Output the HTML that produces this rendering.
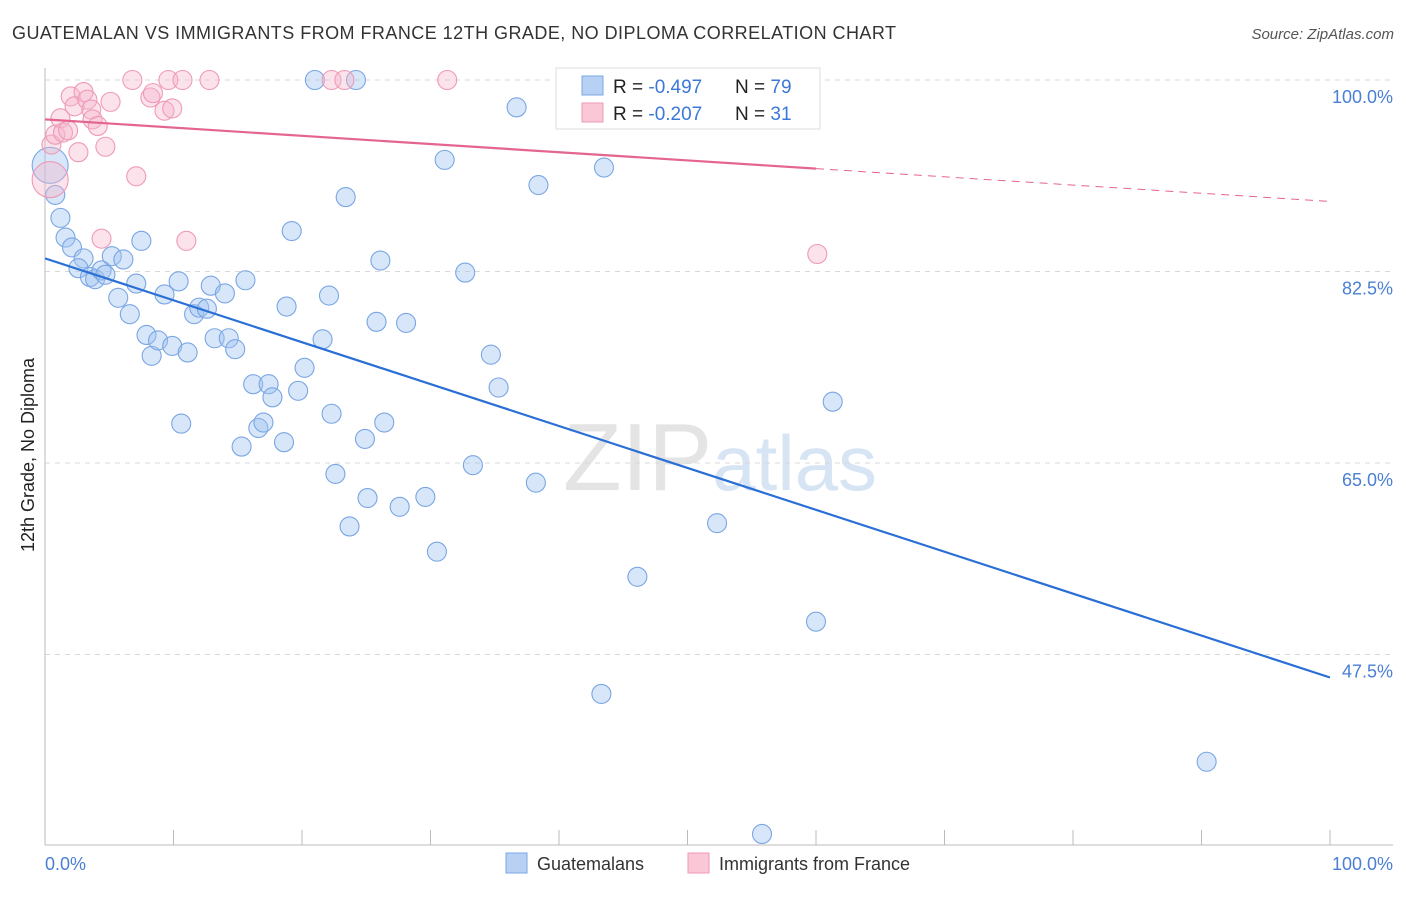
<!DOCTYPE html>
<html><head><meta charset="utf-8"><style>
body{margin:0;background:#fff;font-family:"Liberation Sans",sans-serif;}
svg text{font-family:"Liberation Sans",sans-serif;}
</style></head><body>
<svg id="chart" width="1406" height="892" xmlns="http://www.w3.org/2000/svg">
<text x="12" y="39" font-size="18" fill="#333" textLength="884">GUATEMALAN VS IMMIGRANTS FROM FRANCE 12TH GRADE, NO DIPLOMA CORRELATION CHART</text>
<text x="1394" y="39" font-size="15" fill="#555" text-anchor="end" font-style="italic">Source: ZipAtlas.com</text>
<text x="720" y="490" font-size="96" fill="#e4e4e4" text-anchor="middle" font-family="Liberation Serif">ZIP<tspan fill="#d6e4f4" font-family="Liberation Sans" font-size="78">atlas</tspan></text>
<g id="grid"></g><g id="axes"></g><g id="pts"></g><g id="lines"></g>
<text transform="translate(34,455) rotate(-90)" font-size="18" fill="#222" text-anchor="middle">12th Grade, No Diploma</text>
<text x="45" y="870" font-size="18" fill="#4a7fd4">0.0%</text>
<text x="1393" y="870" font-size="18" fill="#4a7fd4" text-anchor="end">100.0%</text>
<g>
<rect x="556" y="68" width="264" height="61" fill="#fff" stroke="#ddd"/>
<rect x="582" y="76" width="21" height="19" fill="#b7d0f3" stroke="#7aa8e6"/>
<rect x="582" y="103" width="21" height="19" fill="#f9c7d6" stroke="#ee9ab5"/>
<text x="613" y="93" font-size="19" fill="#222">R = <tspan fill="#3b78d8">-0.497</tspan></text>
<text x="735" y="93" font-size="19" fill="#222">N = <tspan fill="#3b78d8">79</tspan></text>
<text x="613" y="120" font-size="19" fill="#222">R = <tspan fill="#3b78d8">-0.207</tspan></text>
<text x="735" y="120" font-size="19" fill="#222">N = <tspan fill="#3b78d8"> 31</tspan></text>
</g>
<g>
<rect x="506" y="853" width="21" height="20" fill="#b7d0f3" stroke="#7aa8e6"/>
<text x="537" y="870" font-size="18" fill="#333">Guatemalans</text>
<rect x="688" y="853" width="21" height="20" fill="#f9c7d6" stroke="#ee9ab5"/>
<text x="719" y="870" font-size="18" fill="#333">Immigrants from France</text>
</g>
</svg>
<script>
const blueX=[0.4,0.8,1.2,1.6,2.1,3.0,2.6,3.5,3.9,4.4,4.7,5.2,6.1,5.7,6.6,7.5,7.1,7.9,8.3,8.8,9.3,9.9,10.4,10.6,11.1,11.6,12.0,12.6,12.9,13.2,14.0,14.3,14.8,15.3,15.6,16.2,16.6,17.0,17.4,17.7,18.6,18.8,19.2,19.7,20.2,21.0,21.6,22.1,22.3,22.6,23.4,23.7,24.2,24.9,25.1,25.8,26.1,26.4,27.6,28.1,29.6,30.5,31.1,32.7,33.3,34.7,35.3,36.7,38.2,38.4,43.3,43.5,46.1,52.3,55.8,58.6,60.0,61.3,90.4];
const blueY=[92.2,89.5,87.4,85.6,84.7,83.7,82.8,82.0,81.8,82.6,82.2,83.9,83.6,80.1,78.6,85.3,81.4,76.7,74.8,76.2,80.4,75.7,81.6,68.6,75.1,78.6,79.2,79.1,81.2,76.4,80.5,76.4,75.4,66.5,81.7,72.2,68.2,68.7,72.2,71.0,66.9,79.3,86.2,71.6,73.7,100,76.3,80.3,69.5,64.0,89.3,59.2,100,67.2,61.8,77.9,83.5,68.7,61.0,77.8,61.9,56.9,92.7,82.4,64.8,74.9,71.9,97.5,63.2,90.4,43.9,92.0,54.6,59.5,31.1,100,50.5,70.6,37.7];
const pinkX=[0.4,0.5,0.8,1.2,1.4,1.8,2.0,2.3,2.6,3.0,3.3,3.6,3.7,4.1,4.4,4.7,5.1,6.8,7.1,8.2,8.4,9.3,9.6,9.9,10.7,11.0,12.8,22.3,23.3,31.3,60.1];
const pinkY=[90.9,94.1,95.0,96.5,95.2,95.4,98.5,97.6,93.4,98.9,98.2,97.3,96.4,95.8,85.5,93.9,98.0,100,91.2,98.4,98.8,97.2,100,97.4,100,85.3,100,100,100,100,84.1];
const blueTrend=[83.7,45.4];   // y at x=0 and x=100
const pinkTrend=[96.4,88.9];
const pinkSolidEnd=60;
const yTicks=[100,82.5,65,47.5];
const yTickLabels=["100.0%","82.5%","65.0%","47.5%"];
const xTicks=[0,10,20,30,40,50,60,70,80,90,100];

const NS="http://www.w3.org/2000/svg";
const X=v=>45+v*12.85, Y=v=>80+(100-v)*10.943;
function mk(t,a,p){const e=document.createElementNS(NS,t);for(const k in a)e.setAttribute(k,a[k]);document.getElementById(p).appendChild(e);return e;}
yTicks.forEach((v,i)=>{
 const g=mk('line',{x1:45,x2:1393,y1:Y(v),y2:Y(v),stroke:'#d8d8d8','stroke-dasharray':'5,5'},'grid');
 
 
 const t=mk('text',{x:1393,y:Y(v)+23,'font-size':18,fill:'#4a7fd4','text-anchor':'end'},'grid');
 t.textContent=yTickLabels[i];
 
 
});
const xa=mk('line',{x1:45,x2:1393,y1:845,y2:845,stroke:'#bbb'},'axes');


const ya=mk('line',{x1:45,x2:45,y1:68,y2:845,stroke:'#bbb'},'axes');


xTicks.forEach(v=>{
 const t=mk('line',{x1:X(v),x2:X(v),y1:830,y2:845,stroke:'#bbb'},'axes');
 
 
});
function pts(xs,ys,fill,stroke,name){
 xs.forEach((x,i)=>{
  const r=(i===0)?18:9.5;
  const c=mk('circle',{cx:X(x),cy:Y(ys[i]),r:r,fill:fill,stroke:stroke,'stroke-width':1.1},'pts');
  
  
 });
}
pts(blueX,blueY,'rgba(160,196,240,0.42)','#7aa6e3','guatemalan-point');
pts(pinkX,pinkY,'rgba(246,182,204,0.4)','#ef9ab6','france-point');
const bl=mk('line',{x1:X(0),y1:Y(blueTrend[0]),x2:X(100),y2:Y(blueTrend[1]),stroke:'#2a6fd6','stroke-width':2.2},'lines');


const pAt=x=>pinkTrend[0]+(pinkTrend[1]-pinkTrend[0])*x/100;
const pl=mk('line',{x1:X(0),y1:Y(pinkTrend[0]),x2:X(pinkSolidEnd),y2:Y(pAt(pinkSolidEnd)),stroke:'#e4658f','stroke-width':2.2},'lines');


const pd=mk('line',{x1:X(pinkSolidEnd),y1:Y(pAt(pinkSolidEnd)),x2:X(100),y2:Y(pinkTrend[1]),stroke:'#e4658f','stroke-width':1,'stroke-dasharray':'8,6'},'lines');


</script>
</body></html>
